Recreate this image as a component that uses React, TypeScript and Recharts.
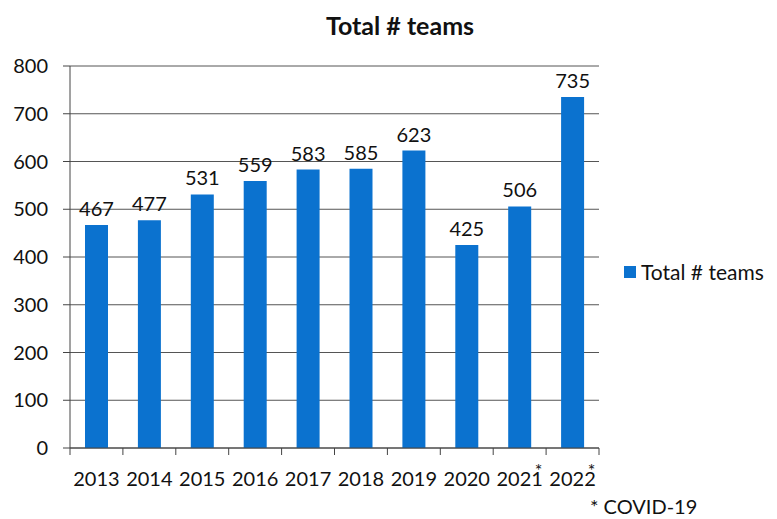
import React from "react";
import { Bar, BarChart, CartesianGrid, LabelList, XAxis, YAxis } from "recharts";

const years = ["2013", "2014", "2015", "2016", "2017", "2018", "2019", "2020", "2021", "2022"];
const teams = [467, 477, 531, 559, 583, 585, 623, 425, 506, 735];
const covidYears = ["2021", "2022"];
const yTicks = [0, 100, 200, 300, 400, 500, 600, 700, 800];

const rows = years.map((year, i) => ({ year, teams: teams[i] }));

const FONT = "Lato, 'Open Sans', sans-serif";
const BLUE = "#0b72cf";

function YearTick(props: any) {
  const { x, y, payload } = props;
  const half = payload && payload.offset ? payload.offset : 26.45;
  const starred = covidYears.includes(payload.value);
  return (
    <g>
      <line x1={x - half} y1={y - 8} x2={x - half} y2={y - 1} stroke="#444" />
      {payload.index === years.length - 1 && (
        <line x1={x + half} y1={y - 8} x2={x + half} y2={y - 1} stroke="#444" />
      )}
      <text x={x} y={y + 30} textAnchor="middle" fill="#111" fontSize={20} fontFamily={FONT}>
        {payload.value}
      </text>
      {starred && (
        <text x={x + 19} y={y + 21} textAnchor="middle" fill="#111" fontSize={18} fontFamily={FONT}>
          *
        </text>
      )}
    </g>
  );
}

export default function App() {
  return (
    <div style={{ position: "absolute", left: 0, top: 0, width: 777, height: 519, background: "#fff" }}>
      <div
        style={{
          position: "absolute",
          top: 10,
          left: 0,
          width: 800,
          textAlign: "center",
          fontFamily: FONT,
          fontWeight: 700,
          fontSize: 25,
          color: "#111",
        }}
      >
        Total # teams
      </div>
      <BarChart
        width={777}
        height={519}
        data={rows}
        margin={{ top: 66, right: 178, bottom: 41, left: 0 }}
        barSize={23}
      >
        <CartesianGrid horizontal vertical={false} stroke="#555" />
        <XAxis dataKey="year" stroke="#444" tickLine={false} tick={<YearTick />} interval={0} />
        <YAxis
          width={70}
          domain={[0, 800]}
          ticks={yTicks}
          stroke="#444"
          tickSize={7}
          tickMargin={15}
          tick={{ fill: "#111", fontSize: 20, fontFamily: FONT }}
        />
        <Bar dataKey="teams" fill={BLUE} isAnimationActive={false}>
          <LabelList dataKey="teams" position="top" offset={9} fill="#111" fontSize={20} fontFamily={FONT} />
        </Bar>
      </BarChart>
      <div
        style={{
          position: "absolute",
          top: 259,
          left: 624,
          display: "flex",
          alignItems: "center",
          fontFamily: FONT,
          fontSize: 21,
          color: "#111",
        }}
      >
        <span style={{ width: 12, height: 12, background: BLUE, marginRight: 5, display: "inline-block" }} />
        Total # teams
      </div>
      <div style={{ position: "absolute", top: 494, left: 590, fontFamily: FONT, fontSize: 20, color: "#111" }}>
        * COVID-19
      </div>
    </div>
  );
}
